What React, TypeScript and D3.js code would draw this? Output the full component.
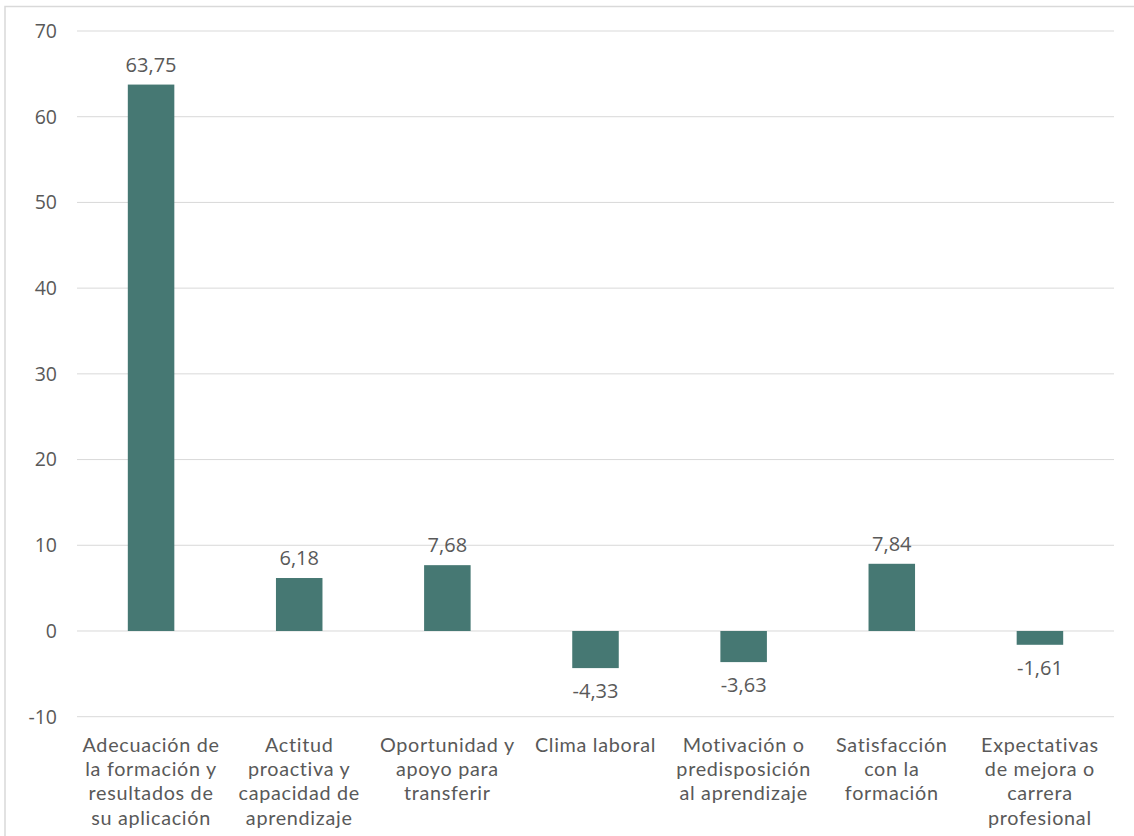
import React from "react";
import * as d3 from "d3";

const categoryLines: string[][] = [
  ["Adecuación de", "la formación y", "resultados de", "su aplicación"],
  ["Actitud", "proactiva y", "capacidad de", "aprendizaje"],
  ["Oportunidad y", "apoyo para", "transferir"],
  ["Clima laboral"],
  ["Motivación o", "predisposición", "al aprendizaje"],
  ["Satisfacción", "con la", "formación"],
  ["Expectativas", "de mejora o", "carrera", "profesional"],
];
const categories = categoryLines.map((l) => l.join(" "));
const values = [63.75, 6.18, 7.68, -4.33, -3.63, 7.84, -1.61];
const valueLabels = ["63,75", "6,18", "7,68", "-4,33", "-3,63", "7,84", "-1,61"];
const yTicks = [-10, 0, 10, 20, 30, 40, 50, 60, 70];

const W = 1134;
const H = 836;
const FONT = "'Open Sans', sans-serif";
const CAT_FONT = "Lato, sans-serif";
const TEXT = "#595959";

export default function App() {
  const x = d3
    .scaleBand<string>()
    .domain(categories)
    .range([77, 1114])
    .paddingInner(0.686)
    .paddingOuter(0.343);
  const y = d3.scaleLinear().domain([-10, 70]).range([716.7, 31]);

  return (
    <svg
      width={W}
      height={H}
      style={{ position: "absolute", left: 0, top: 0, background: "#fff" }}
    >
      <rect x={0} y={0} width={W} height={H} fill="#fff" />
      <rect
        x={5}
        y={6.5}
        width={W + 20}
        height={H + 20}
        fill="none"
        stroke="#d9d9d9"
        strokeWidth={1.5}
      />
      {yTicks.map((t) => (
        <g key={t}>
          <line
            x1={77}
            x2={1114}
            y1={y(t)}
            y2={y(t)}
            stroke="#d9d9d9"
            strokeWidth={1}
          />
          <text
            x={57}
            y={y(t)}
            dy="0.35em"
            textAnchor="end"
            fontFamily={FONT}
            fontSize={19.5}
            fill={TEXT}
          >
            {t}
          </text>
        </g>
      ))}
      {categories.map((c, i) => {
        const v = values[i];
        const bx = x(c)!;
        const top = y(Math.max(0, v));
        const bottom = y(Math.min(0, v));
        const cx = bx + x.bandwidth() / 2;
        return (
          <g key={c}>
            <rect
              x={bx}
              y={top}
              width={x.bandwidth()}
              height={bottom - top}
              fill="#467873"
            />
            <text
              x={cx}
              y={v >= 0 ? top - 13 : bottom + 30}
              textAnchor="middle"
              fontFamily={FONT}
              fontSize={20}
              fill={TEXT}
            >
              {valueLabels[i]}
            </text>
            {categoryLines[i].map((line, j) => (
              <text
                key={j}
                x={cx}
                y={752 + j * 24.2}
                textAnchor="middle"
                fontFamily={CAT_FONT}
                fontSize={19.8}
                letterSpacing={0.7}
                fill={TEXT}
              >
                {line}
              </text>
            ))}
          </g>
        );
      })}
    </svg>
  );
}
